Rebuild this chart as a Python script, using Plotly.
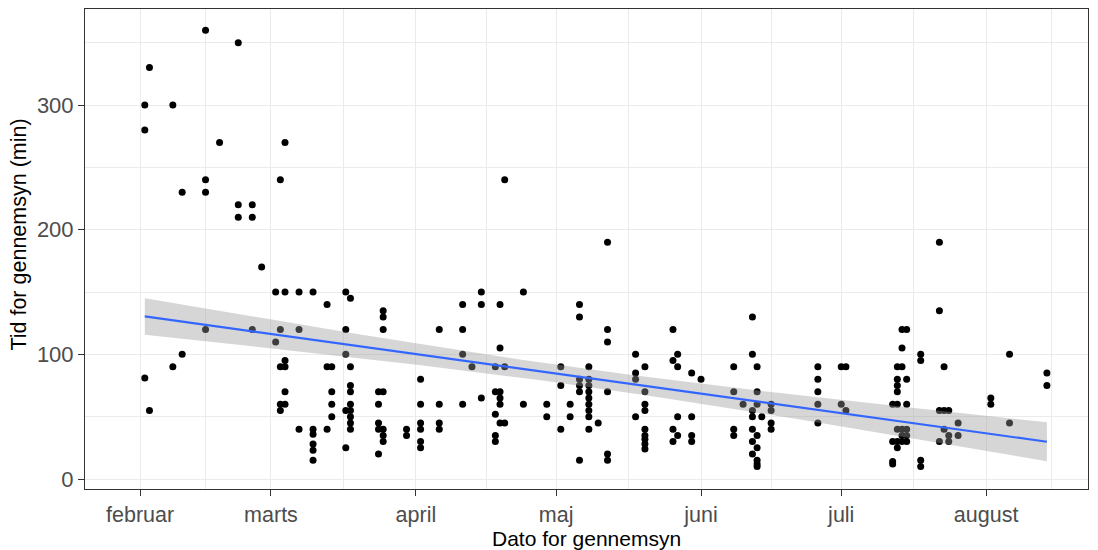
import numpy as np
import pandas as pd
import plotly.graph_objects as go

# ---- data ----
review_dates = [
    "2021-02-02", "2021-02-03", "2021-02-08", "2021-02-10", "2021-02-15", "2021-02-18",
    "2021-02-22", "2021-02-25", "2021-02-27", "2021-03-02", "2021-03-03", "2021-03-04",
    "2021-03-07", "2021-03-10", "2021-03-13", "2021-03-14", "2021-03-17", "2021-03-18",
    "2021-03-24", "2021-03-25", "2021-03-30", "2021-04-02", "2021-04-06", "2021-04-11",
    "2021-04-13", "2021-04-15", "2021-04-18", "2021-04-19", "2021-04-20", "2021-04-24",
    "2021-04-29", "2021-05-02", "2021-05-04", "2021-05-06", "2021-05-08", "2021-05-10",
    "2021-05-12", "2021-05-18", "2021-05-20", "2021-05-26", "2021-05-27", "2021-05-30",
    "2021-06-01", "2021-06-08", "2021-06-10", "2021-06-12", "2021-06-13", "2021-06-14",
    "2021-06-16", "2021-06-26", "2021-07-01", "2021-07-02", "2021-07-12", "2021-07-13",
    "2021-07-14", "2021-07-15", "2021-07-18", "2021-07-22", "2021-07-23", "2021-07-24",
    "2021-07-26", "2021-08-02", "2021-08-06", "2021-08-14",
]
minutes_per_date = [
    [300, 280, 81], [330, 55], [300, 90], [230, 100], [360, 240, 230, 120], [270],
    [350, 220, 210], [220, 210, 120], [170], [150, 110], [240, 120, 90, 60, 55], [270, 150, 95, 90, 70, 60],
    [150, 120, 40], [150, 40, 36, 28, 23, 15], [140, 90, 40], [90, 70, 60, 50], [150, 120, 100, 55, 25],
    [145, 90, 75, 70, 60, 55, 50, 45, 40],
    [70, 60, 45, 40, 20], [135, 130, 120, 70, 40, 35, 30], [40, 35], [80, 60, 45, 40, 30, 25],
    [120, 60, 45, 40], [140, 120, 100, 60],
    [90], [150, 140, 65], [90, 70, 52, 35, 30], [140, 105, 70, 65, 60, 45], [240, 90, 45], [150, 60],
    [60, 50], [90, 75, 40], [60, 50], [140, 130, 80, 75, 70, 15], [90, 80, 75, 70, 65, 60, 55, 50, 40], [45],
    [190, 120, 110, 70, 20, 15], [100, 85, 80, 50], [90, 70, 60, 55, 40, 35, 32, 28, 24], [120, 95, 40, 30],
    [100, 90, 50, 35], [85, 50, 35, 30],
    [80], [90, 70, 40, 35], [60], [130, 100, 55, 50, 40, 30, 20], [90, 70, 60, 35, 25, 15, 12, 10], [50],
    [60, 55, 45, 40], [90, 80, 70, 60, 45], [90, 60], [90, 55], [60, 30, 14, 12], [90, 80, 75, 70, 60, 40, 30, 25],
    [120, 105, 90, 40, 35, 30], [120, 80, 60, 40, 35, 30], [100, 95, 15, 10], [190, 135, 55, 30], [90, 55, 40],
    [55, 35, 30],
    [45, 35], [65, 60], [100, 45], [85, 75],
]
month_ticks = ["2021-02-01", "2021-03-01", "2021-04-01", "2021-05-01",
               "2021-06-01", "2021-07-01", "2021-08-01"]
month_labels = ["februar", "marts", "april", "maj", "juni", "juli", "august"]
x_limits = ["2021-01-20 05:00", "2021-08-22 19:00"]
y_limits = [-8, 377]
y_ticks = [0, 100, 200, 300]
y_minor = [50, 150, 250, 350]

# ---- flatten ----
x_dates, y_vals = [], []
for d, vals in zip(review_dates, minutes_per_date):
    for v in vals:
        x_dates.append(d)
        y_vals.append(v)
x_dt = pd.to_datetime(pd.Series(x_dates))
y = np.array(y_vals, dtype=float)

# ---- linear fit with 95% confidence band (like geom_smooth(method="lm")) ----
base = pd.Timestamp("2021-01-01")
xd = ((x_dt - base) / pd.Timedelta(days=1)).to_numpy()
n = len(xd)
slope, intercept = np.polyfit(xd, y, 1)
resid = y - (slope * xd + intercept)
s = np.sqrt(np.sum(resid ** 2) / (n - 2))
xbar = xd.mean()
sxx = np.sum((xd - xbar) ** 2)
xs = np.linspace(xd.min(), xd.max(), 80)
fit = slope * xs + intercept
se = s * np.sqrt(1.0 / n + (xs - xbar) ** 2 / sxx)
tq = 1.971
upper = fit + tq * se
lower = fit - tq * se
xs_dt = base + pd.to_timedelta(xs, unit="D")
xs_list = list(xs_dt)

# minor x gridlines: midpoints between month breaks (ggplot style)
tick_dt = pd.to_datetime(pd.Series(month_ticks))
ext = list(tick_dt) + [tick_dt.iloc[-1] + (tick_dt.iloc[1] - tick_dt.iloc[0])]
x_minor = [ext[i] + (ext[i + 1] - ext[i]) / 2 for i in range(len(ext) - 1)]

fig = go.Figure()
fig.add_trace(go.Scatter(x=x_dt, y=y, mode="markers",
                         marker=dict(color="black", size=7, line=dict(width=0)),
                         hoverinfo="x+y", showlegend=False))
fig.add_trace(go.Scatter(x=xs_list + xs_list[::-1], y=list(upper) + list(lower[::-1]),
                         fill="toself", fillcolor="rgba(153,153,153,0.4)",
                         line=dict(width=0), mode="lines", hoverinfo="skip", showlegend=False))
fig.add_trace(go.Scatter(x=xs_list, y=fit, mode="lines",
                         line=dict(color="#3366FF", width=2.2), showlegend=False))

font_family = "Liberation Sans, Arial, sans-serif"
fig.update_layout(
    width=1098, height=550,
    margin=dict(l=85, r=10, t=9, b=61),
    plot_bgcolor="white", paper_bgcolor="white",
    font=dict(family=font_family, color="black"),
    xaxis=dict(
        type="date", range=x_limits,
        tickmode="array", tickvals=month_ticks, ticktext=month_labels,
        ticks="outside", ticklen=6, tickcolor="#333333", tickwidth=1,
        tickfont=dict(size=21.5, color="#4D4D4D", family=font_family),
        showgrid=True, gridcolor="#EBEBEB", gridwidth=1,
        minor=dict(tickvals=x_minor, showgrid=True, gridcolor="#EBEBEB", gridwidth=1, ticks=""),
        showline=True, linecolor="#333333", linewidth=1, mirror=True,
        zeroline=False,
    ),
    yaxis=dict(
        range=y_limits, tickmode="array", tickvals=y_ticks,
        ticks="outside", ticklen=6, tickcolor="#333333", tickwidth=1,
        tickfont=dict(size=22, color="#4D4D4D", family=font_family),
        showgrid=True, gridcolor="#EBEBEB", gridwidth=1,
        minor=dict(tickvals=y_minor, showgrid=True, gridcolor="#EBEBEB", gridwidth=1, ticks=""),
        showline=True, linecolor="#333333", linewidth=1, mirror=True,
        zeroline=False,
    ),
    annotations=[
        dict(text="Dato for gennemsyn", xref="paper", yref="paper", x=0.5, y=0,
             xanchor="center", yanchor="middle", yshift=-49, showarrow=False,
             font=dict(size=21, color="black", family=font_family)),
        dict(text="Tid for gennemsyn (min)", xref="paper", yref="paper", x=0, y=0.53,
             xanchor="center", yanchor="middle", xshift=-66, textangle=-90, showarrow=False,
             font=dict(size=21.5, color="black", family=font_family)),
    ],
)
fig.write_html("out.html")
